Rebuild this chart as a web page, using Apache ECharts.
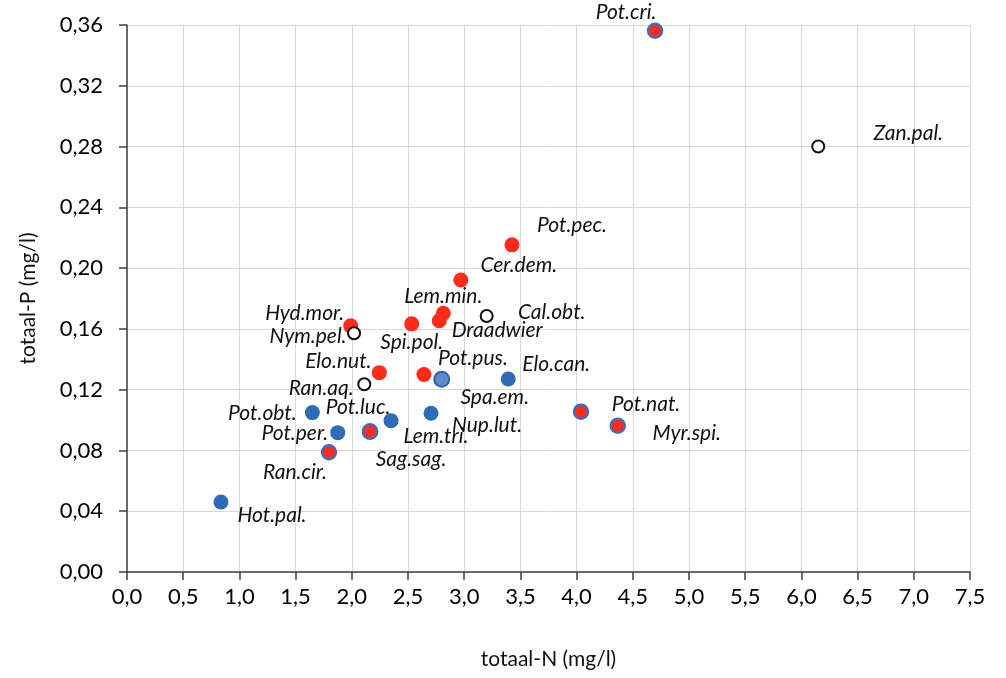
<!DOCTYPE html>
<html>
<head>
<meta charset="utf-8">
<script src="https://cdn.jsdelivr.net/npm/echarts@6/dist/echarts.min.js"></script>
<style>
html,body{margin:0;padding:0;background:#fff;}
#chart{width:1006px;height:678px;}
</style>
</head>
<body>
<div id="chart"></div>
<script>
// ---- data (totaal-N mg/l, totaal-P mg/l) ----
const xTitle = 'totaal-N (mg/l)';
const yTitle = 'totaal-P (mg/l)';

const redNames = ['Pot.pec.','Cer.dem.','Lem.min.','Draadwier','Hyd.mor.','Spi.pol.','Elo.nut.','Pot.pus.'];
const redN     = [3.425, 2.97, 2.814, 2.778, 1.99, 2.533, 2.245, 2.642];
const redP     = [0.2153, 0.1922, 0.1703, 0.1654, 0.162, 0.1633, 0.1312, 0.130];

const blueNames = ['Elo.can.','Pot.obt.','Nup.lut.','Lem.tri.','Pot.per.','Hot.pal.'];
const blueN     = [3.392, 1.649, 2.705, 2.349, 1.875, 0.836];
const blueP     = [0.127, 0.1049, 0.1045, 0.0996, 0.0917, 0.0461];

const lightNames = ['Spa.em.'];
const lightN     = [2.80];
const lightP     = [0.1269];

const mixNames = ['Pot.cri.','Pot.nat.','Myr.spi.','Ran.cir.','Sag.sag.','Pot.luc.'];
const mixN     = [4.698, 4.039, 4.366, 1.797, 2.162, 2.162];
const mixP     = [0.3562, 0.1055, 0.0963, 0.0788, 0.0924, 0.0924];

const openNames = ['Zan.pal.','Cal.obt.','Nym.pel.','Ran.aq.'];
const openN     = [6.15, 3.20, 2.02, 2.111];
const openP     = [0.280, 0.1685, 0.1571, 0.1236];

// ---- label placement (pixel offsets of label centre from the marker) ----
const labelOffsets = {
  'Pot.cri.':[-29,-19], 'Zan.pal.':[90,-13], 'Pot.pec.':[60,-20], 'Cer.dem.':[58,-15],
  'Lem.min.':[0,-17], 'Draadwier':[58,10], 'Cal.obt.':[65,-4], 'Hyd.mor.':[-46,-13],
  'Nym.pel.':[-46,3], 'Spi.pol.':[0,18], 'Elo.nut.':[-41,-11], 'Pot.pus.':[49,-16],
  'Spa.em.':[53,18], 'Elo.can.':[48,-15], 'Ran.aq.':[-43,4], 'Pot.obt.':[-50,1],
  'Pot.luc.':[-12,-24], 'Sag.sag.':[41,28], 'Lem.tri.':[45,16], 'Nup.lut.':[56,12],
  'Pot.per.':[-43,1], 'Ran.cir.':[-34,20], 'Hot.pal.':[51,13], 'Pot.nat.':[65,-7],
  'Myr.spi.':[69,8]
};

function build(names, xs, ys) {
  return names.map((n, i) => ({
    name: n,
    value: [xs[i], ys[i]],
    label: { offset: labelOffsets[n] || [0,0] }
  }));
}

const labelStyle = {
  show: true,
  position: 'inside',
  formatter: p => p.name,
  fontFamily: 'Lato',
  fontStyle: 'italic',
  fontSize: 21,
  color: '#111',
  align: 'center',
  verticalAlign: 'middle'
};

const chart = echarts.init(document.getElementById('chart'), null, {renderer: 'canvas'});
chart.setOption({
  animation: false,
  backgroundColor: '#fff',
  grid: { left: 127, right: 36, top: 25, bottom: 106, containLabel: false },
  xAxis: {
    type: 'value', min: 0, max: 7.5, interval: 0.5,
    name: xTitle, nameLocation: 'middle', nameGap: 77,
    nameTextStyle: { fontFamily: 'Lato', fontSize: 21, color: '#111' },
    axisLine: { show: true, onZero: false, lineStyle: { color: '#404040', width: 1.5 } },
    axisTick: { show: true, length: 8, lineStyle: { color: '#404040', width: 1.5 } },
    axisLabel: { margin: 14, fontFamily: 'Lato', fontSize: 22, color: '#000',
      formatter: v => v.toFixed(1).replace('.', ',') },
    splitLine: { show: true, lineStyle: { color: '#d9d9d9', width: 1 } }
  },
  yAxis: {
    type: 'value', min: 0, max: 0.36, interval: 0.04,
    name: yTitle, nameLocation: 'middle', nameGap: 88,
    nameTextStyle: { fontFamily: 'Lato', fontSize: 21, color: '#111' },
    axisLine: { show: true, onZero: false, lineStyle: { color: '#404040', width: 1.5 } },
    axisTick: { show: true, length: 8, lineStyle: { color: '#404040', width: 1.5 } },
    axisLabel: { margin: 24, fontFamily: 'Lato', fontSize: 22, color: '#000',
      formatter: v => v.toFixed(2).replace('.', ',') },
    splitLine: { show: true, lineStyle: { color: '#d9d9d9', width: 1 } }
  },
  series: [
    { type: 'scatter', name: 'blue', symbolSize: 15, data: build(blueNames, blueN, blueP),
      itemStyle: { color: '#2f6cb6', opacity: 1 }, label: labelStyle },
    { type: 'scatter', name: 'light', symbolSize: 15, data: build(lightNames, lightN, lightP),
      itemStyle: { color: '#5f8ac6', borderColor: '#2f62ad', borderWidth: 2, opacity: 1 }, label: labelStyle },
    { type: 'scatter', name: 'mix', symbolSize: 14, data: build(mixNames, mixN, mixP),
      itemStyle: { color: '#ff2b1b', borderColor: '#4a69b0', borderWidth: 2.5, opacity: 1 }, label: labelStyle },
    { type: 'scatter', name: 'red', symbolSize: 15, data: build(redNames, redN, redP),
      itemStyle: { color: '#ff2b1b', opacity: 1 }, label: labelStyle },
    { type: 'scatter', name: 'open', symbolSize: 12, data: build(openNames, openN, openP),
      itemStyle: { color: '#ffffff', borderColor: '#111', borderWidth: 2, opacity: 1 }, label: labelStyle }
  ]
});
</script>
</body>
</html>
